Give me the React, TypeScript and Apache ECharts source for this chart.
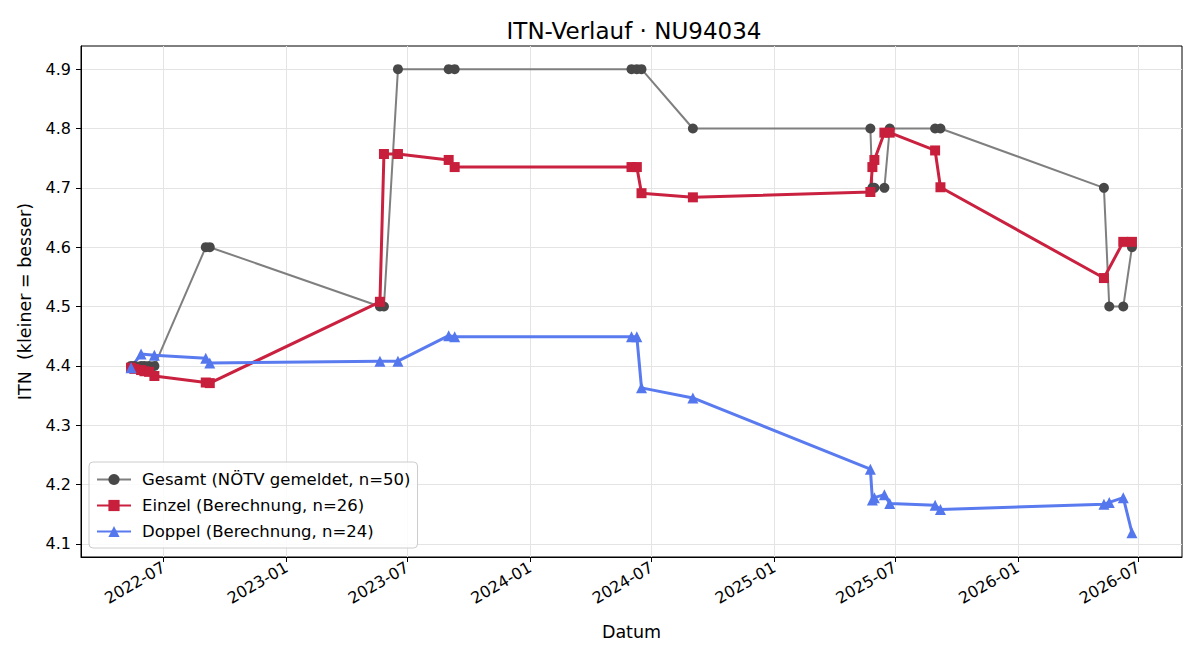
import React, { useEffect, useRef } from "react";
import * as echarts from "echarts";

const gesamtDates = [
  "2022-05-13", "2022-05-18", "2022-05-28", "2022-06-02", "2022-06-09", "2022-06-17",
  "2022-09-02", "2022-09-08", "2023-05-21", "2023-05-27", "2023-06-17", "2023-09-01",
  "2023-09-10", "2024-06-01", "2024-06-09", "2024-06-16", "2024-09-01", "2025-05-25",
  "2025-05-28", "2025-05-31", "2025-06-15", "2025-06-23", "2025-08-30", "2025-09-07",
  "2026-05-10", "2026-05-18", "2026-06-08", "2026-06-21",
];
const gesamtValues = [
  4.4, 4.4, 4.4, 4.4, 4.4, 4.4,
  4.6, 4.6, 4.5, 4.5, 4.9, 4.9,
  4.9, 4.9, 4.9, 4.9, 4.8, 4.8,
  4.7, 4.7, 4.7, 4.8, 4.8, 4.8,
  4.7, 4.5, 4.5, 4.6,
];

const einzelDates = [
  "2022-05-13", "2022-05-18", "2022-05-28", "2022-06-02", "2022-06-09", "2022-06-17",
  "2022-09-02", "2022-09-08", "2023-05-21", "2023-05-27", "2023-06-17", "2023-09-01",
  "2023-09-10", "2024-06-01", "2024-06-09", "2024-06-16", "2024-09-01", "2025-05-25",
  "2025-05-28", "2025-05-31", "2025-06-15", "2025-06-23", "2025-08-30", "2025-09-07",
  "2026-05-10", "2026-06-08", "2026-06-21",
];
const einzelValues = [
  4.397, 4.395, 4.393, 4.391, 4.39, 4.383,
  4.372, 4.371, 4.508, 4.757, 4.757, 4.747,
  4.735, 4.735, 4.735, 4.691, 4.684, 4.693,
  4.735, 4.747, 4.793, 4.793, 4.763, 4.701,
  4.548, 4.609, 4.609,
];

const doppelDates = [
  "2022-05-13", "2022-05-28", "2022-06-17", "2022-09-02", "2022-09-08", "2023-05-21",
  "2023-06-17", "2023-09-01", "2023-09-10", "2024-06-01", "2024-06-09", "2024-06-16",
  "2024-09-01", "2025-05-25", "2025-05-28", "2025-05-31", "2025-06-15", "2025-06-23",
  "2025-08-30", "2025-09-07", "2026-05-10", "2026-05-18", "2026-06-08", "2026-06-21",
];
const doppelValues = [
  4.397, 4.42, 4.418, 4.413, 4.405, 4.408,
  4.408, 4.451, 4.449, 4.449, 4.449, 4.363,
  4.346, 4.226, 4.174, 4.178, 4.183, 4.168,
  4.165, 4.158, 4.167, 4.17, 4.178, 4.119,
];

const xTickDates = [
  "2022-07-01", "2023-01-01", "2023-07-01", "2024-01-01", "2024-07-01",
  "2025-01-01", "2025-07-01", "2026-01-01", "2026-07-01",
];
const yTicks = [4.1, 4.2, 4.3, 4.4, 4.5, 4.6, 4.7, 4.8, 4.9];

const seriesNames = [
  "Gesamt (NÖTV gemeldet, n=50)",
  "Einzel (Berechnung, n=26)",
  "Doppel (Berechnung, n=24)",
];

const FONT = "DejaVu Sans";

function toPairs(dates: string[], values: number[]) {
  return dates.map((d, i) => [Date.parse(d), values[i]]);
}

export default function App() {
  const ref = useRef<HTMLDivElement>(null);
  useEffect(() => {
    if (!ref.current) return;
    const chart = echarts.init(ref.current, undefined, { renderer: "svg" });
    const xMin = Date.parse("2022-02-27");
    const xMax = Date.parse("2026-09-04");
    const xTicks = xTickDates.map((d) => Date.parse(d));
    chart.setOption({
      animation: false,
      backgroundColor: "#ffffff",
      title: {
        text: "ITN-Verlauf · NU94034",
        left: 629,
        textAlign: "center",
        top: 14,
        textStyle: { fontFamily: FONT, fontSize: 23, fontWeight: "normal", color: "#000" },
      },
      grid: {
        left: 81,
        right: 18,
        top: 46,
        bottom: 103,
        show: true,
        borderColor: "#000",
        borderWidth: 1,
      },
      legend: {
        orient: "vertical",
        left: 89,
        top: 462,
        padding: [9, 7, 8, 7],
        itemWidth: 34,
        itemHeight: 14,
        itemGap: 9,
        backgroundColor: "rgba(255,255,255,0.85)",
        borderColor: "#cccccc",
        borderWidth: 1,
        borderRadius: 4,
        textStyle: { fontFamily: FONT, fontSize: 16.5, color: "#000", padding: [0, 0, 0, 6] },
        data: seriesNames,
      },
      xAxis: {
        type: "value",
        min: xMin,
        max: xMax,
        name: "Datum",
        nameLocation: "middle",
        nameGap: 66,
        nameTextStyle: { fontFamily: FONT, fontSize: 17.5, color: "#000" },
        axisLine: { show: true, lineStyle: { color: "#000", width: 1 } },
        axisTick: { show: true, length: 5, lineStyle: { color: "#000" }, customValues: xTicks },
        axisLabel: {
          customValues: xTicks,
          rotate: 30,
          margin: 9,
          fontFamily: FONT,
          fontSize: 16,
          color: "#000",
          formatter: (v: number) => {
            const d = new Date(v);
            const m = d.getUTCMonth() + 1;
            return d.getUTCFullYear() + "-" + (m < 10 ? "0" + m : "" + m);
          },
        },
        splitLine: { show: true, lineStyle: { color: "#e4e4e4", width: 1 } },
      },
      yAxis: {
        type: "value",
        min: 4.078,
        max: 4.939,
        name: "ITN  (kleiner = besser)",
        nameLocation: "middle",
        nameGap: 47,
        nameTextStyle: { fontFamily: FONT, fontSize: 17.5, color: "#000" },
        axisLine: { show: true, lineStyle: { color: "#000", width: 1 } },
        axisTick: { show: true, length: 5, lineStyle: { color: "#000" }, customValues: yTicks },
        axisLabel: {
          customValues: yTicks,
          margin: 10,
          fontFamily: FONT,
          fontSize: 16,
          color: "#000",
          formatter: (v: number) => v.toFixed(1),
        },
        splitLine: { show: true, lineStyle: { color: "#e4e4e4", width: 1 } },
      },
      series: [
        {
          name: seriesNames[0],
          type: "line",
          data: toPairs(gesamtDates, gesamtValues),
          symbol: "circle",
          symbolSize: 10,
          showAllSymbol: true,
          lineStyle: { color: "#7f7f7f", width: 2 },
          itemStyle: { color: "#484848" },
        },
        {
          name: seriesNames[1],
          type: "line",
          data: toPairs(einzelDates, einzelValues),
          symbol: "rect",
          symbolSize: 10,
          showAllSymbol: true,
          lineStyle: { color: "#c9213f", width: 3 },
          itemStyle: { color: "#c71f3c" },
        },
        {
          name: seriesNames[2],
          type: "line",
          data: toPairs(doppelDates, doppelValues),
          symbol: "triangle",
          symbolSize: 11,
          showAllSymbol: true,
          lineStyle: { color: "#5a7bef", width: 3 },
          itemStyle: { color: "#5577ee" },
        },
      ],
    });
    return () => chart.dispose();
  }, []);
  return (
    <div
      ref={ref}
      style={{ position: "absolute", left: 0, top: 0, width: 1200, height: 660 }}
    />
  );
}
